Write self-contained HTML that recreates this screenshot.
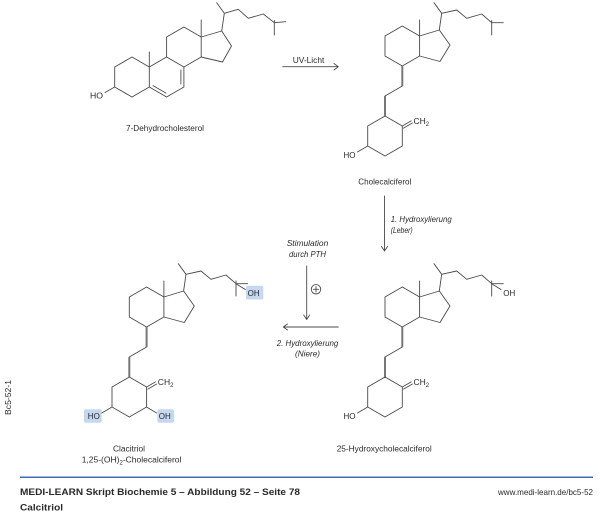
<!DOCTYPE html>
<html><head><meta charset="utf-8"><style>
html,body{margin:0;padding:0;background:#fff;}
svg{display:block;}
text{font-family:"Liberation Sans",Arial,sans-serif;fill:#2a2a2a;}
.b{stroke:#4a4a4a;stroke-width:0.9;fill:none;stroke-linejoin:round;stroke-linecap:round;}
.t{stroke:#777;stroke-width:2;fill:none;}
.lbl{font-size:8.5px;}
.it{font-size:8.5px;font-style:italic;}
</style></head><body>
<svg width="600" height="517" viewBox="0 0 600 517" xmlns="http://www.w3.org/2000/svg">
<rect width="600" height="517" fill="#fff"/>

<!-- 7-Dehydrocholesterol -->
<g class="b">
  <path d="M132,57 L114.7,67 L114.7,87 L132,97 L149.3,87 L149.3,67 Z"/>
  <path d="M149.3,67 L149.3,52"/>
  <path d="M149.3,67 L166.6,57 L183.9,67 L183.9,87 L166.6,97 L149.3,87"/>
  <path d="M153,85.6 L166,93.1"/>
  <path d="M180.9,70 L180.9,84"/>
  <path d="M166.6,57 L166.6,37 L183.9,27 L201.2,37 L201.2,57 L183.9,67"/>
  <path d="M201.2,37 L201.2,20"/>
  <path d="M201.2,37 L221.7,31 L231.5,46 L222.5,62 L201.2,57"/>
  <path d="M221.7,31 L224.3,13.3 M216.7,2.7 L224.3,13.3 L238.3,9.3 L248.3,18.3 L263.3,14 L274.3,22.7 L285.7,21.7 M274.3,20.5 L274.3,35"/>
  <path d="M114.7,87 L105,92.5"/>
</g>
<text class="lbl" x="90" y="98.5" textLength="13" lengthAdjust="spacingAndGlyphs">HO</text>
<text class="lbl" x="126" y="131" textLength="78" lengthAdjust="spacingAndGlyphs">7-Dehydrocholesterol</text>

<!-- UV arrow -->
<g class="b">
  <path d="M282.7,66.7 L338.3,66.7 M334,63.5 L338.3,66.7 L334,70"/>
</g>
<text class="lbl" x="292.7" y="63" textLength="31.6" lengthAdjust="spacingAndGlyphs">UV-Licht</text>

<!-- Cholecalciferol -->
<g>
<g class="b">
  <path d="M385,36 L402.3,26 L419.6,36 L419.6,56 L402.3,66 L385,56 Z"/>
  <path d="M419.6,36 L419.6,20"/>
  <path d="M419.6,36 L439.3,30 L450,45 L440,61.5 L419.6,56"/>
  <path d="M439.3,30 L441.7,13.3 M434,2.7 L441.7,13.3 L456.7,10 L466.7,18.3 L481.7,14 L491.7,22.7 L503.3,22.7 M491.7,20.5 L491.7,35"/>
  <path d="M402.3,86 L385,96"/>
  <path d="M385,116 L402.3,126 L402.3,146 L385,156 L367.7,146 L367.7,126 Z"/>
  <path d="M402.3,126 L411.2,120.9 M403.5,128.1 L412.4,123"/>
  <path d="M367.7,146 L357.5,152"/>
</g>
<path class="t" d="M402.3,66 L402.3,86 M385,96 L385,116"/>
<text class="lbl" x="413.5" y="124">CH<tspan font-size="6" dy="2">2</tspan></text>
<text class="lbl" x="343.5" y="158" textLength="12" lengthAdjust="spacingAndGlyphs">HO</text>
</g>
<text class="lbl" x="358.3" y="184.5" textLength="53" lengthAdjust="spacingAndGlyphs">Cholecalciferol</text>

<!-- Arrow 1 -->
<g class="b">
  <path d="M384.5,196 L384.5,251 M381.5,246.5 L384.5,251 L387.5,246.5"/>
</g>
<text class="it" x="390.7" y="222" textLength="61" lengthAdjust="spacingAndGlyphs">1. Hydroxylierung</text>
<text class="it" x="390.7" y="233" textLength="22" lengthAdjust="spacingAndGlyphs">(Leber)</text>

<!-- 25-Hydroxycholecalciferol -->
<g transform="translate(0,261)">
<g class="b">
  <path d="M385,36 L402.3,26 L419.6,36 L419.6,56 L402.3,66 L385,56 Z"/>
  <path d="M419.6,36 L419.6,20"/>
  <path d="M419.6,36 L439.3,30 L450,45 L440,61.5 L419.6,56"/>
  <path d="M439.3,30 L441.7,13.3 M434,2.7 L441.7,13.3 L456.7,10 L466.7,18.3 L481.7,14 L491.7,22.7 L503.3,22.7 M491.7,20 L491.7,35"/>
  <path d="M491.7,22.7 L501,28.5"/>
  <path d="M402.3,86 L385,96"/>
  <path d="M385,116 L402.3,126 L402.3,146 L385,156 L367.7,146 L367.7,126 Z"/>
  <path d="M402.3,126 L411.2,120.9 M403.5,128.1 L412.4,123"/>
  <path d="M367.7,146 L357.5,152"/>
</g>
<path class="t" d="M402.3,66 L402.3,86 M385,96 L385,116"/>
<text class="lbl" x="413.5" y="124">CH<tspan font-size="6" dy="2">2</tspan></text>
<text class="lbl" x="343.5" y="158" textLength="12" lengthAdjust="spacingAndGlyphs">HO</text>
<text class="lbl" x="503.3" y="35" textLength="12" lengthAdjust="spacingAndGlyphs">OH</text>
</g>
<text class="lbl" x="336.7" y="451.5" textLength="95" lengthAdjust="spacingAndGlyphs">25-Hydroxycholecalciferol</text>

<!-- PTH arrow and horizontal arrow -->
<text class="it" x="286.7" y="246" textLength="41.6" lengthAdjust="spacingAndGlyphs">Stimulation</text>
<text class="it" x="289" y="257" textLength="37" lengthAdjust="spacingAndGlyphs">durch PTH</text>
<g class="b">
  <path d="M306.7,266 L306.7,319.5 M303.7,315 L306.7,319.5 L309.7,315"/>
  <circle cx="316" cy="289.3" r="4.7"/>
  <path d="M313.3,289.3 L318.7,289.3 M316,286.6 L316,292"/>
  <path d="M338.3,327 L283.3,327 M287.5,324 L283.3,327 L287.5,330"/>
</g>
<text class="it" x="276.7" y="346" textLength="61.6" lengthAdjust="spacingAndGlyphs">2. Hydroxylierung</text>
<text class="it" x="295" y="356.5" textLength="25" lengthAdjust="spacingAndGlyphs">(Niere)</text>

<!-- Calcitriol -->
<rect x="84" y="409.3" width="17.7" height="13.4" rx="2" fill="#c5d8ef"/>
<rect x="157.3" y="409.3" width="16.7" height="13.4" rx="2" fill="#c5d8ef"/>
<rect x="246" y="285.7" width="17.3" height="13.8" rx="2" fill="#c5d8ef"/>
<g transform="translate(-255.7,261)">
<g class="b">
  <path d="M385,36 L402.3,26 L419.6,36 L419.6,56 L402.3,66 L385,56 Z"/>
  <path d="M419.6,36 L419.6,20"/>
  <path d="M419.6,36 L439.3,30 L450,45 L440,61.5 L419.6,56"/>
  <path d="M439.3,30 L441.7,13.3 M434,2.7 L441.7,13.3 L456.7,10 L466.7,18.3 L481.7,14 L491.7,22.7 L503.3,22.7 M491.7,20 L491.7,35"/>
  <path d="M491.7,22.7 L501,28.5"/>
  <path d="M402.3,86 L385,96"/>
  <path d="M385,116 L402.3,126 L402.3,146 L385,156 L367.7,146 L367.7,126 Z"/>
  <path d="M402.3,126 L411.2,120.9 M403.5,128.1 L412.4,123"/>
  <path d="M367.7,146 L357.5,152"/>
  <path d="M402.3,146 L412.3,152"/>
</g>
<path class="t" d="M402.3,66 L402.3,86 M385,96 L385,116"/>
<text class="lbl" x="413.5" y="124">CH<tspan font-size="6" dy="2">2</tspan></text>
<text class="lbl" x="343.5" y="158" textLength="12" lengthAdjust="spacingAndGlyphs">HO</text>
<text class="lbl" x="414.5" y="158" textLength="12" lengthAdjust="spacingAndGlyphs">OH</text>
<text class="lbl" x="503.3" y="35" textLength="12" lengthAdjust="spacingAndGlyphs">OH</text>
</g>
<text class="lbl" x="113" y="451.5" textLength="32" lengthAdjust="spacingAndGlyphs">Clacitriol</text>
<text class="lbl" x="81.7" y="462.5">1,25-(OH)<tspan font-size="6" dy="2">2</tspan><tspan dy="-2">-Cholecalciferol</tspan></text>

<!-- side label -->
<text font-size="8" transform="translate(11,415) rotate(-90)" textLength="35" lengthAdjust="spacingAndGlyphs">Bc5-52-1</text>

<!-- Footer -->
<line x1="20" y1="477.3" x2="593" y2="477.3" stroke="#3b6cb4" stroke-width="1.5"/>
<text x="20" y="495" font-size="9.5" font-weight="bold" fill="#222" textLength="280" lengthAdjust="spacingAndGlyphs">MEDI-LEARN Skript Biochemie 5 – Abbildung 52 – Seite 78</text>
<text x="20" y="510.5" font-size="9.5" font-weight="bold" fill="#222" textLength="43" lengthAdjust="spacingAndGlyphs">Calcitriol</text>
<text x="498" y="495" font-size="8.5" fill="#333" textLength="95" lengthAdjust="spacingAndGlyphs">www.medi-learn.de/bc5-52</text>
</svg>
</body></html>
